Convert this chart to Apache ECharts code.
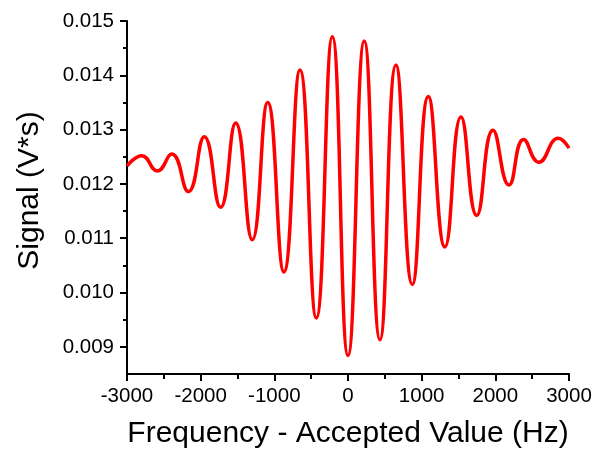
<!DOCTYPE html>
<html>
<head>
<meta charset="utf-8">
<script src="https://cdn.jsdelivr.net/npm/echarts@6/dist/echarts.min.js"></script>
<style>
  html, body { margin: 0; padding: 0; background: #fff; }
  #chart { width: 602px; height: 454px; }
</style>
</head>
<body>
<div id="chart"></div>
<script>
// frequency offsets (Hz) read at the fringe peaks / troughs
const freq = [
  -3000, -2800, -2589, -2393, -2168, -1951, -1730, -1525, -1300, -1090,
  -870, -652, -430, -213, 0, 221, 434, 651, 873, 1090,
  1316, 1534, 1747, 1968, 2185, 2385, 2590, 2855, 3000
];
// integrated signal (V*s)
const signal = [
  0.01233, 0.01252, 0.01224, 0.01255, 0.01186, 0.01287, 0.01157, 0.01312, 0.01097, 0.01350,
  0.01038, 0.01410, 0.00953, 0.01471, 0.00884, 0.01463, 0.00913, 0.01419, 0.01015, 0.01361,
  0.01084, 0.01323, 0.01142, 0.01299, 0.01198, 0.01282, 0.01240, 0.01284, 0.01266
];
const xTicks = [-3000, -2000, -1000, 0, 1000, 2000, 3000];
const yMajor = [0.009, 0.010, 0.011, 0.012, 0.013, 0.014, 0.015];
const yMinor = [0.0095, 0.0105, 0.0115, 0.0125, 0.0135, 0.0145];

const points = freq.map(function (f, i) { return [f, signal[i]]; });
const font = 'Liberation Sans, Arial, sans-serif';
const black = { color: '#000', width: 2 };

const chart = echarts.init(document.getElementById('chart'), null, { renderer: 'canvas' });
chart.setOption({
  animation: false,
  grid: { left: 127, right: 33, top: 21, bottom: 78 },
  xAxis: {
    type: 'value',
    min: xTicks[0],
    max: xTicks[xTicks.length - 1],
    interval: 1000,
    name: 'Frequency - Accepted Value (Hz)',
    nameLocation: 'middle',
    nameGap: 45,
    nameTextStyle: { fontFamily: font, fontSize: 30, color: '#000' },
    axisLine: { show: true, onZero: false, lineStyle: black },
    axisTick: { show: true, length: 7, lineStyle: black },
    minorTick: { show: true, splitNumber: 2, length: 5, lineStyle: black },
    axisLabel: {
      fontFamily: font, fontSize: 20.5, color: '#000', margin: 12,
      formatter: function (v) { return String(v); }
    },
    splitLine: { show: false }
  },
  yAxis: [
    {
      type: 'value',
      min: 0.0085,
      max: 0.015,
      position: 'left',
      name: 'Signal (V*s)',
      nameLocation: 'middle',
      nameGap: 82,
      nameTextStyle: { fontFamily: font, fontSize: 30, color: '#000', padding: [0, 0, 0, 14] },
      axisLine: { show: true, onZero: false, lineStyle: black },
      axisTick: { show: true, length: 7, lineStyle: black, customValues: yMajor },
      axisLabel: {
        fontFamily: font, fontSize: 20.5, color: '#000', margin: 13,
        customValues: yMajor,
        formatter: function (v) { return v.toFixed(3); }
      },
      splitLine: { show: false }
    },
    {
      type: 'value',
      min: 0.0085,
      max: 0.015,
      position: 'left',
      axisLine: { show: false, onZero: false },
      axisTick: { show: true, length: 4, lineStyle: black, customValues: yMinor },
      axisLabel: { show: false },
      splitLine: { show: false }
    }
  ],
  series: [{
    type: 'line',
    data: points,
    yAxisIndex: 0,
    smooth: 0.5,
    showSymbol: false,
    lineStyle: { color: '#ff0000', width: 3.5 }
  }]
});
</script>
</body>
</html>
